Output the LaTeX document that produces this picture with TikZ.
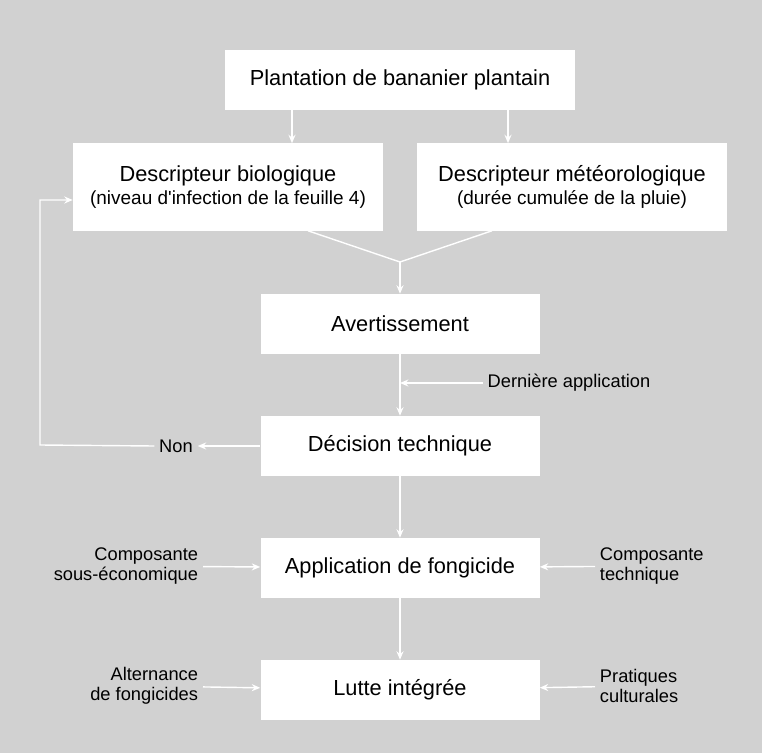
\documentclass[tikz,border=0pt]{standalone}
\usepackage{fontspec}
\setmainfont{Liberation Sans}
\usepackage{tikz}
\usetikzlibrary{arrows.meta}

\begin{document}
\begin{tikzpicture}[
  node distance=3.05cm,
  box/.style={fill=white, minimum width=6.975cm, minimum height=1.5cm, align=center, font=\fontsize{15.5}{17}\selectfont},
  descbox/.style={box, minimum width=7.75cm, minimum height=2.175cm},
  side/.style={align=center, font=\fontsize{13}{14}\selectfont},
  link/.style={white, line width=1pt},
  arrow/.style={link, -{Stealth[length=6pt, width=5pt]}}
]
\fill[black!18] (0,0) rectangle (19.05,-18.825);
\useasboundingbox (0,0) rectangle (19.05,-18.825);

\node[box, minimum width=8.75cm] (plant) at (10,-2) {Plantation de bananier plantain};
\node[descbox] (bio) [below of=plant, xshift=-4.3cm, yshift=0.375cm] {Descripteur biologique\\[-1pt]{\fontsize{13.5}{15}\selectfont (niveau d\textquotesingle{}infection de la feuille 4)}};
\node[descbox] (met) [below of=plant, xshift=4.3cm, yshift=0.375cm] {Descripteur météorologique\\[-1pt]{\fontsize{13.5}{15}\selectfont (durée cumulée de la pluie)}};
\node[box] (avert) [below of=plant, yshift=-3.05cm] {Avertissement};
\node[box] (decis) [below of=avert] {Décision technique};
\node[box] (appli) [below of=decis] {Application de fongicide};
\node[box] (lutte) [below of=appli] {Lutte intégrée};

\node[side] (derniere) [right of=avert, xshift=1.175cm, yshift=-1.475cm] {Dernière application};
\node[side] (non) [left of=decis, xshift=-2.55cm] {Non};
\node[side, align=right] (compsous) [left of=appli, anchor=east, xshift=-1.875cm, yshift=0.05cm] {Composante\\sous-économique};
\node[side, align=left] (comptech) [right of=appli, anchor=west, xshift=1.825cm, yshift=0.05cm] {Composante\\technique};
\node[side, align=right] (altern) [left of=lutte, anchor=east, xshift=-1.875cm, yshift=0.1cm] {Alternance\\de fongicides};
\node[side, align=left] (prat) [right of=lutte, anchor=west, xshift=1.825cm, yshift=0.1cm] {Pratiques\\culturales};

\coordinate (merge) at (10,-6.55);
\coordinate (turn) at (1.0,-11.125);

\draw[arrow] ([xshift=-2.7cm]plant.south) -- ([xshift=-2.7cm]plant.south |- bio.north);
\draw[arrow] ([xshift=2.7cm]plant.south) -- ([xshift=2.7cm]plant.south |- met.north);
\draw[link] ([xshift=2cm]bio.south) -- (merge);
\draw[link] ([xshift=-2cm]met.south) -- (merge);
\draw[arrow] (merge) -- (avert);
\draw[arrow] (avert) -- (decis);
\draw[arrow] (derniere.west) -- (derniere.west -| avert.south);
\draw[arrow] (decis) -- (non);
\draw[arrow] (non.west) -- (turn) |- ([yshift=-0.325cm]bio.west);
\draw[arrow] (decis) -- (appli);
\draw[arrow] (compsous) -- (appli);
\draw[arrow] (comptech) -- (appli);
\draw[arrow] (appli) -- (lutte);
\draw[arrow] (altern) -- (lutte);
\draw[arrow] (prat) -- (lutte);
\end{tikzpicture}
\end{document}
